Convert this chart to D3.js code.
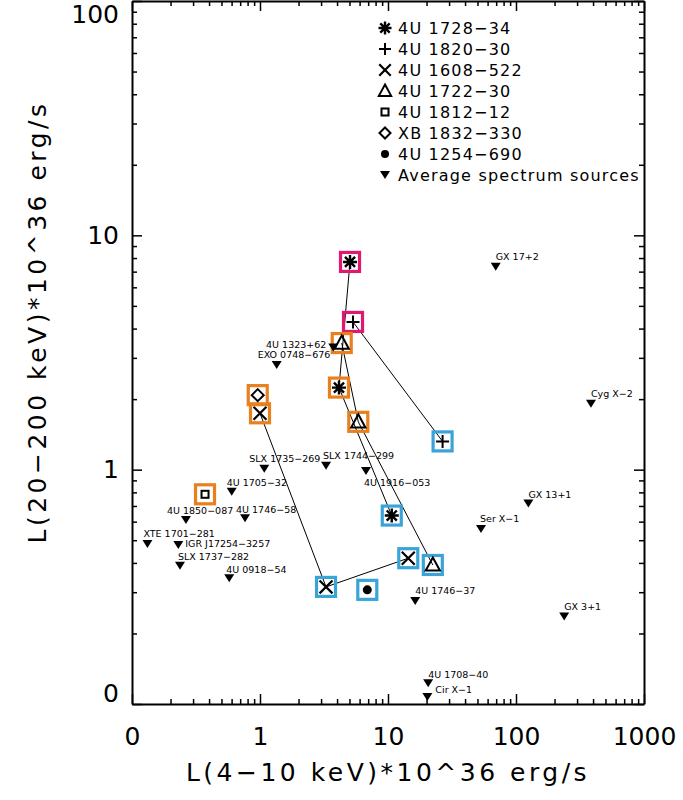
<!DOCTYPE html>
<html>
<head>
<meta charset="utf-8">
<script src="https://cdn.jsdelivr.net/npm/d3@7"></script>
<style>
  html, body { margin: 0; padding: 0; background: #fff; }
  svg text { font-family: 'DejaVu Sans', sans-serif; fill: #000; }
</style>
</head>
<body>
<div id="chart"></div>
<script>
// axis ticks
const xTickValues = [0.1, 1, 10, 100, 1000];
const xTickLabels = ['0', '1', '10', '100', '1000'];
const yTickValues = [0.1, 1, 10, 100];
const yTickLabels = ['0', '1', '10', '100'];

// sources followed through several states (high / mid / low)
const trackNames = ['4U 1728-34', '4U 1820-30', '4U 1608-522', '4U 1722-30', '4U 1812-12', 'XB 1832-330', '4U 1254-690'];
const trackSymbols = ['asterisk', 'plus', 'cross', 'triangle', 'square', 'diamond', 'circle'];
const trackX = [[5.05, 4.14, 10.7], [5.33, 26.7], [1.0, 3.28, 14.4], [4.35, 5.86, 22.4], [0.372], [0.96], [6.89]];
const trackY = [[7.7, 2.24, 0.637], [4.27, 1.32], [1.74, 0.316, 0.419], [3.47, 1.60, 0.392], [0.785], [2.08], [0.307]];
const trackState = [['high', 'mid', 'low'], ['high', 'low'], ['mid', 'low', 'low'], ['mid', 'mid', 'low'], ['mid'], ['mid'], ['low']];

// average spectrum sources
const avgNames = ['GX 17+2', 'Cyg X-2', '4U 1323+62', 'EXO 0748-676', 'SLX 1735-269', 'SLX 1744-299', '4U 1916-053',
  '4U 1705-32', '4U 1850-087', '4U 1746-58', 'XTE 1701-281', 'IGR J17254-3257', 'SLX 1737-282', '4U 0918-54',
  'GX 13+1', 'Ser X-1', '4U 1746-37', 'GX 3+1', '4U 1708-40', 'Cir X-1'];
const avgX = [69.4, 385, 3.74, 1.35, 1.08, 3.28, 6.73, 0.601, 0.264, 0.764, 0.132, 0.23, 0.237, 0.575, 125, 53.3, 16.3, 238, 20.6, 20.3];
const avgY = [7.35, 1.91, 3.32, 2.80, 1.01, 1.04, 0.987, 0.805, 0.61, 0.62, 0.482, 0.477, 0.389, 0.344, 0.718, 0.558, 0.275, 0.236, 0.1226, 0.107];

const legendLabels = [...trackNames, 'Average spectrum sources'];
const legendSymbols = [...trackSymbols, 'tridown'];

// layout and style
const width = 683;
const height = 800;
const plot = { left: 132, right: 644, top: 1, bottom: 704 };
const stateColor = { high: '#e0196e', mid: '#e8801f', low: '#3aa4d8' };
const labelShift = {
  '4U 1323+62': [-7, -3, 'end'],
  'EXO 0748-676': [-19, -10],
  'SLX 1735-269': [-15, -10],
  'SLX 1744-299': [-3, -10],
  '4U 1916-053': [-2, 12],
  '4U 1705-32': [-5, -9],
  '4U 1850-087': [-19, -9],
  '4U 1746-58': [-9, -9],
  'XTE 1701-281': [-4, -10.5],
  'IGR J17254-3257': [7, -1.5],
  'SLX 1737-282': [-2, -9],
  '4U 0918-54': [-3, -9],
  'GX 13+1': [0, -9],
  'Ser X-1': [-1, -10],
  '4U 1708-40': [0, -9],
  'Cir X-1': [8, -8],
};
const minus = (s) => s.replace(/-/g, '\u2212');

const svg = d3.select('#chart').append('svg')
  .attr('width', width)
  .attr('height', height);

const x = d3.scaleLog().domain([0.1, 1000]).range([plot.left, plot.right]);
const y = d3.scaleLog().domain([0.1, 100]).range([plot.bottom, plot.top]);

function drawSymbol(g, kind, r) {
  const s = r * 0.72;
  switch (kind) {
    case 'asterisk':
      g.append('path')
        .attr('d', `M${-r},0L${r},0M0,${-r}L0,${r}M${-s},${-s}L${s},${s}M${-s},${s}L${s},${-s}`)
        .attr('stroke', '#000').attr('stroke-width', 2.4).attr('fill', 'none');
      break;
    case 'plus':
      g.append('path')
        .attr('d', `M${-r},0L${r},0M0,${-r}L0,${r}`)
        .attr('stroke', '#000').attr('stroke-width', 2).attr('fill', 'none');
      break;
    case 'cross':
      g.append('path')
        .attr('d', `M${-s},${-s}L${s},${s}M${-s},${s}L${s},${-s}`)
        .attr('stroke', '#000').attr('stroke-width', 2.2).attr('fill', 'none');
      break;
    case 'triangle':
      g.append('path')
        .attr('d', `M0,${-r}L${r * 0.95},${r * 0.75}L${-r * 0.95},${r * 0.75}Z`)
        .attr('stroke', '#000').attr('stroke-width', 2).attr('fill', 'none');
      break;
    case 'square':
      g.append('rect')
        .attr('x', -r).attr('y', -r).attr('width', 2 * r).attr('height', 2 * r)
        .attr('stroke', '#000').attr('stroke-width', 2).attr('fill', 'none');
      break;
    case 'diamond':
      g.append('path')
        .attr('d', `M0,${-r}L${r},0L0,${r}L${-r},0Z`)
        .attr('stroke', '#000').attr('stroke-width', 2).attr('fill', 'none');
      break;
    case 'circle':
      g.append('circle').attr('r', r).attr('fill', '#000');
      break;
    case 'tridown':
      g.append('path')
        .attr('d', `M${-r},${-r * 0.8}L${r},${-r * 0.8}L0,${r * 0.8}Z`)
        .attr('fill', '#000');
      break;
  }
}

const plotSize = { asterisk: 7, plus: 6.5, cross: 9, triangle: 7.5, square: 3.5, diamond: 6, circle: 4.5 };
const legendSize = { asterisk: 6.5, plus: 6, cross: 8, triangle: 6.5, square: 3.5, diamond: 5.5, circle: 4, tridown: 5 };

// connecting lines
const tracks = trackNames.map((name, i) => ({
  name,
  symbol: trackSymbols[i],
  points: trackX[i].map((v, j) => ({ x: v, y: trackY[i][j], state: trackState[i][j] })),
}));

const line = d3.line().x((d) => x(d.x)).y((d) => y(d.y));
svg.append('g')
  .selectAll('path')
  .data(tracks.filter((t) => t.points.length > 1))
  .enter()
  .append('path')
  .attr('d', (d) => line(d.points))
  .attr('fill', 'none')
  .attr('stroke', '#000')
  .attr('stroke-width', 1);

// state boxes and symbols
const pointData = tracks.flatMap((t) => t.points.map((p) => ({ ...p, symbol: t.symbol })));
const pts = svg.append('g')
  .selectAll('g')
  .data(pointData)
  .enter()
  .append('g')
  .attr('transform', (d) => `translate(${x(d.x)},${y(d.y)})`);

pts.append('rect')
  .attr('x', -9.5).attr('y', -9.5)
  .attr('width', 19).attr('height', 19)
  .attr('fill', 'none')
  .attr('stroke', (d) => stateColor[d.state])
  .attr('stroke-width', 3.2);

pts.each(function (d) {
  drawSymbol(d3.select(this), d.symbol, plotSize[d.symbol]);
});

// average spectrum sources
const avgData = avgNames.map((name, i) => ({ name, x: avgX[i], y: avgY[i] }));
const avg = svg.append('g')
  .selectAll('g')
  .data(avgData)
  .enter()
  .append('g')
  .attr('transform', (d) => `translate(${x(d.x)},${y(d.y)})`);

avg.each(function () {
  drawSymbol(d3.select(this), 'tridown', 5);
});

avg.append('text')
  .attr('x', (d) => (labelShift[d.name] || [0, -10.5])[0])
  .attr('y', (d) => (labelShift[d.name] || [0, -10.5])[1])
  .attr('dy', '0.36em')
  .attr('text-anchor', (d) => (labelShift[d.name] || [])[2] || 'start')
  .attr('font-size', 9.5)
  .text((d) => minus(d.name));

// legend
const legend = svg.append('g')
  .selectAll('g')
  .data(legendLabels.map((label, i) => ({ label, symbol: legendSymbols[i], i })))
  .enter()
  .append('g')
  .attr('transform', (d) => `translate(385,${28 + 21 * d.i})`);

legend.each(function (d) {
  drawSymbol(d3.select(this), d.symbol, legendSize[d.symbol]);
});

legend.append('text')
  .attr('x', 13)
  .attr('dy', '0.36em')
  .attr('font-size', 16)
  .attr('letter-spacing', 1.2)
  .text((d) => minus(d.label));

// axes (box with ticks on all four sides)
const xTicks = x.ticks();
const yTicks = y.ticks();
const isMajor = (v) => Math.abs(Math.log10(v) - Math.round(Math.log10(v))) < 1e-6;

function styleAxis(g) {
  g.select('.domain').attr('stroke', '#000').attr('stroke-width', 2);
  g.selectAll('.tick line')
    .attr('stroke', '#000')
    .attr('stroke-width', 1.5);
  g.selectAll('.tick text')
    .attr('font-size', 25)
    .attr('font-family', "'DejaVu Sans', sans-serif");
}

function fmt(values, labels) {
  return (v) => {
    const k = values.findIndex((t) => Math.abs(t - v) < 1e-9);
    return k >= 0 ? labels[k] : '';
  };
}

const bottomAxis = svg.append('g')
  .attr('transform', `translate(0,${plot.bottom})`)
  .call(d3.axisBottom(x).tickValues(xTicks).tickSizeOuter(0).tickSizeInner(-10).tickPadding(23)
    .tickFormat(fmt(xTickValues, xTickLabels)))
  .call(styleAxis);
bottomAxis.selectAll('.tick line').attr('y2', (d) => (isMajor(d) ? -10 : -5));

const topAxis = svg.append('g')
  .attr('transform', `translate(0,${plot.top})`)
  .call(d3.axisTop(x).tickValues(xTicks).tickSizeOuter(0).tickSizeInner(-10).tickFormat(''))
  .call(styleAxis);
topAxis.selectAll('.tick line').attr('y2', (d) => (isMajor(d) ? 10 : 5));

const leftAxis = svg.append('g')
  .attr('transform', `translate(${plot.left},0)`)
  .call(d3.axisLeft(y).tickValues(yTicks).tickSizeOuter(0).tickSizeInner(-10).tickPadding(13)
    .tickFormat(fmt(yTickValues, yTickLabels)))
  .call(styleAxis);
leftAxis.selectAll('.tick line').attr('x2', (d) => (isMajor(d) ? 10 : 5));
// keep the end labels inside the figure, as the original does
leftAxis.selectAll('.tick text')
  .attr('y', (d) => Math.min(Math.max(y(d), 14), 693) - y(d));

const rightAxis = svg.append('g')
  .attr('transform', `translate(${plot.right},0)`)
  .call(d3.axisRight(y).tickValues(yTicks).tickSizeOuter(0).tickSizeInner(-10).tickFormat(''))
  .call(styleAxis);
rightAxis.selectAll('.tick line').attr('x2', (d) => (isMajor(d) ? -10 : -5));

// axis titles
svg.append('text')
  .attr('x', (plot.left + plot.right) / 2)
  .attr('y', 781)
  .attr('text-anchor', 'middle')
  .attr('font-size', 25)
  .attr('letter-spacing', 3.5)
  .text(minus('L(4-10 keV)*10^36 erg/s'));

svg.append('text')
  .attr('transform', 'translate(46,322) rotate(-90)')
  .attr('text-anchor', 'middle')
  .attr('font-size', 25)
  .attr('letter-spacing', 3.5)
  .text(minus('L(20-200 keV)*10^36 erg/s'));
</script>
</body>
</html>
